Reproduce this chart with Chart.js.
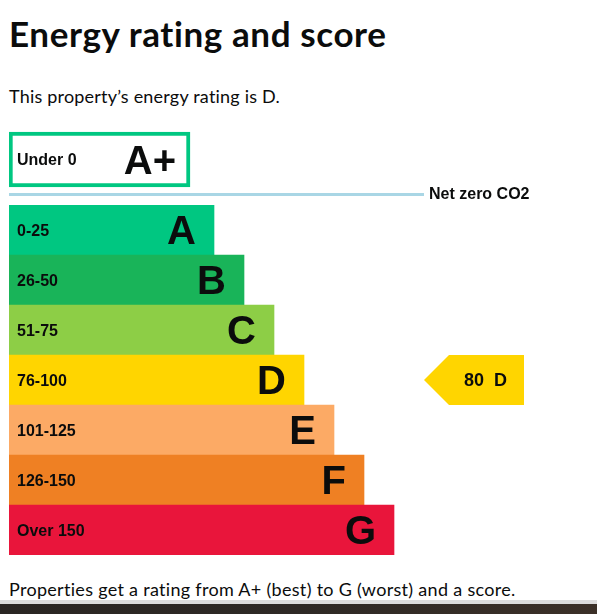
<!DOCTYPE html>
<html><head><meta charset="utf-8">
<script src="https://cdn.jsdelivr.net/npm/chart.js@4/dist/chart.umd.min.js"></script>
<style>
html,body{margin:0;padding:0;background:#fff;width:597px;height:614px;overflow:hidden;}
body{position:relative;font-family:Lato,"Noto Sans",sans-serif;color:#0b0c0c;}
.t{position:absolute;left:9px;margin:0;white-space:nowrap;line-height:1;}
#title{top:16px;font-size:35px;font-weight:700;letter-spacing:0.6px;}
#sub{top:87px;font-size:18px;font-weight:400;letter-spacing:0.2px;}
#foot{top:580px;font-size:18px;font-weight:400;letter-spacing:0.3px;}
#topWrap{position:absolute;left:9px;top:125px;width:588px;height:78px;}
#bandWrap{position:absolute;left:9px;top:205px;width:588px;height:350px;}
#grey{position:absolute;left:0;top:600px;width:597px;height:4px;background:#dcdcdc;}
#dark{position:absolute;left:0;top:604px;width:597px;height:10px;background:linear-gradient(90deg,#2a2623,#2e2925 50%,#3b3028);}
</style>
</head><body>
<h1 class="t" id="title">Energy rating and score</h1>
<p class="t" id="sub">This property’s energy rating is D.</p>
<div id="topWrap"><canvas id="topChart"></canvas></div>
<div id="bandWrap"><canvas id="bandChart"></canvas></div>
<p class="t" id="foot">Properties get a rating from A+ (best) to G (worst) and a score.</p>
<div id="grey"></div><div id="dark"></div>
<script>
// ---- data ----
const topCategory = ['A+'];
const topRange = ['Under 0'];
const topLength = [181];
const categories = ['A','B','C','D','E','F','G'];
const ranges = ['0-25','26-50','51-75','76-100','101-125','126-150','Over 150'];
const bandLengths = [205,235,265,295,325,355,385];
const bandColors = ['#00c781','#19b459','#8dce46','#ffd500','#fcaa65','#ef8023','#e9153b'];
const currentScore = [80];
const currentRating = ['D'];
const netZeroLabel = 'Net zero CO2';

const XMAX = 588;
const ARIAL = 'Arial, "Liberation Sans", sans-serif';

function capText(ctx, txt, x, cy, size, align){
  ctx.font = 'bold ' + size + 'px ' + ARIAL;
  ctx.textAlign = align;
  ctx.textBaseline = 'alphabetic';
  ctx.fillStyle = '#0b0c0c';
  ctx.fillText(txt, x, cy + size * 0.358);
}

const bandLabelPlugin = {
  id: 'bandLabels',
  afterDatasetsDraw(chart, args, opts) {
    const ctx = chart.ctx;
    const xs = chart.scales.x, ys = chart.scales.y;
    const ds = chart.data.datasets[0];
    ctx.save();
    chart.data.labels.forEach((lab, i) => {
      const cy = ys.getPixelForValue(i);
      const xEnd = xs.getPixelForValue(ds.data[i]);
      capText(ctx, opts.ranges[i], xs.getPixelForValue(8), cy, 16, 'left');
      capText(ctx, lab, xEnd - opts.letterPad, cy, 40, 'right');
    });
    ctx.restore();
  }
};

const netZeroPlugin = {
  id: 'netZero',
  afterDatasetsDraw(chart) {
    const ctx = chart.ctx;
    const xs = chart.scales.x;
    const y = chart.chartArea.bottom + 0.5;
    const labelX = xs.getPixelForValue(420);
    ctx.save();
    ctx.strokeStyle = '#a9d6e5';
    ctx.lineWidth = 3;
    ctx.beginPath();
    ctx.moveTo(xs.getPixelForValue(0), y);
    ctx.lineTo(labelX - 5, y);
    ctx.stroke();
    capText(ctx, netZeroLabel, labelX, y - 1.5, 16, 'left');
    ctx.restore();
  }
};

const scorePlugin = {
  id: 'scoreArrow',
  afterDatasetsDraw(chart) {
    const ctx = chart.ctx;
    const xs = chart.scales.x, ys = chart.scales.y;
    const idx = categories.indexOf(currentRating[0]);
    const cy = ys.getPixelForValue(idx);
    const half = (ys.getPixelForValue(1) - ys.getPixelForValue(0)) / 2;
    const tip = xs.getPixelForValue(415);
    const right = xs.getPixelForValue(515);
    const shoulder = tip + half;
    ctx.save();
    ctx.fillStyle = bandColors[idx];
    ctx.beginPath();
    ctx.moveTo(tip, cy);
    ctx.lineTo(shoulder, cy - half);
    ctx.lineTo(right, cy - half);
    ctx.lineTo(right, cy + half);
    ctx.lineTo(shoulder, cy + half);
    ctx.closePath();
    ctx.fill();
    capText(ctx, currentScore[0] + '  ' + currentRating[0], (shoulder + right) / 2 - 1, cy, 18, 'center');
    ctx.restore();
  }
};

const commonOpts = {
  indexAxis: 'y',
  responsive: true,
  maintainAspectRatio: false,
  animation: false,
  events: [],
  plugins: { legend: { display: false }, tooltip: { enabled: false }, title: { display: false } },
};

new Chart(document.getElementById('topChart'), {
  type: 'bar',
  data: {
    labels: topCategory,
    datasets: [{
      data: topLength,
      backgroundColor: '#ffffff',
      borderColor: '#00c781',
      borderWidth: 4,
      borderSkipped: false,
      barThickness: 55,
    }]
  },
  options: Object.assign({}, commonOpts, {
    layout: { padding: { left: 0, right: 0, top: 0, bottom: 9 } },
    scales: {
      x: { type: 'linear', min: 0, max: XMAX, display: false },
      y: { type: 'category', display: false }
    },
    plugins: Object.assign({}, commonOpts.plugins, { bandLabels: { ranges: topRange, letterPad: 14 } })
  }),
  plugins: [bandLabelPlugin, netZeroPlugin]
});

new Chart(document.getElementById('bandChart'), {
  type: 'bar',
  data: {
    labels: categories,
    datasets: [{
      data: bandLengths,
      backgroundColor: bandColors,
      borderWidth: 0,
      barPercentage: 1,
      categoryPercentage: 1,
    }]
  },
  options: Object.assign({}, commonOpts, {
    layout: { padding: 0 },
    scales: {
      x: { type: 'linear', min: 0, max: XMAX, display: false },
      y: { type: 'category', display: false }
    },
    plugins: Object.assign({}, commonOpts.plugins, { bandLabels: { ranges: ranges, letterPad: 18 } })
  }),
  plugins: [bandLabelPlugin, scorePlugin]
});
</script>
</body></html>
